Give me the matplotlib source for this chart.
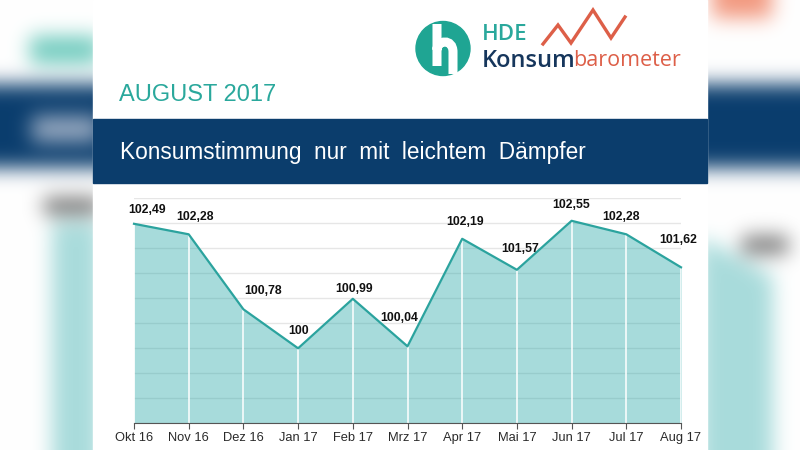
import numpy as np
import matplotlib
matplotlib.use("Agg")
import matplotlib.pyplot as plt
from matplotlib.patches import Rectangle, Circle
from matplotlib.path import Path
from matplotlib.patches import PathPatch

# HDE Konsumbarometer, August 2017
months = ["Okt 16", "Nov 16", "Dez 16", "Jan 17", "Feb 17", "Mrz 17",
          "Apr 17", "Mai 17", "Jun 17", "Jul 17", "Aug 17"]
index_values = [102.49, 102.28, 100.78, 100.00, 100.99, 100.04,
                102.19, 101.57, 102.55, 102.28, 101.62]
value_labels = ["102,49", "102,28", "100,78", "100", "100,99", "100,04",
                "102,19", "101,57", "102,55", "102,28", "101,62"]

# label nudges (pixels), mimicking the original's label placement
label_dx = [13, 6, 20, 0, 1, -8, 3, 3, 0, -5, -3]
label_dy = [14, 17, 18, 17, 10, 28, 17, 21, 16, 17, 27]

navy = "#0b3d6c"
teal = "#2aa89c"
line_teal = "#2ba39e"
red = "#dd5f48"

W, H = 800, 450
fig = plt.figure(figsize=(8, 4.5), dpi=100)


def blur(img, s):
    r = int(3 * s)
    k = np.exp(-0.5 * (np.arange(-r, r + 1) / s) ** 2)
    k /= k.sum()
    p = np.pad(img, ((r, r), (r, r), (0, 0)), mode="edge")
    p = np.apply_along_axis(lambda v: np.convolve(v, k, mode="valid"), 0, p)
    p = np.apply_along_axis(lambda v: np.convolve(v, k, mode="valid"), 1, p)
    return np.clip(p, 0, 1)


# blurred backdrop (zoomed copy of the card)
bg_img = np.ones((H, W, 3))
nv = np.array([0.04, 0.24, 0.43])
bg_img[84:168, :] = nv
bg_img[36:64, 30:100] = [0.45, 0.8, 0.75]
bg_img[116:142, 32:100] = [0.6, 0.67, 0.76]
bg_img[198:214, 44:100] = [0.4, 0.4, 0.4]
bg_img[222:, 52:100] = [0.66, 0.86, 0.86]
bg_img[0:18, 712:772] = [0.95, 0.6, 0.5]
bg_img[236:254, 742:788] = [0.45, 0.45, 0.45]
yy, xx = np.mgrid[0:H, 0:W]
right_fill = (xx >= 700) & (xx <= 772) & (yy >= 240 + (xx - 707) * 0.55)
bg_img[right_fill] = [0.66, 0.86, 0.86]
bg_img = blur(bg_img, 10)

bg = fig.add_axes([0, 0, 1, 1])
bg.imshow(bg_img, extent=(0, W, H, 0), aspect="auto", zorder=0)
bg.set_xlim(0, W)
bg.set_ylim(H, 0)
bg.axis("off")

# white card and title band
bg.add_patch(Rectangle((93, 0), 614, 450, color="white", zorder=1))
bg.add_patch(Rectangle((93, 119), 614, 64, color=navy, zorder=2))
bg.text(119, 95, "AUGUST 2017", color=teal, fontsize=17,
        family="Liberation Sans", va="center", ha="left", zorder=3)
bg.text(120, 153, "Konsumstimmung  nur  mit  leichtem  Dämpfer", color="white",
        fontsize=16.3, family="Liberation Sans", va="center", ha="left", zorder=3)

# logo
bg.add_patch(Circle((443, 48.5), 27, color="#1fa593", zorder=3))
h_path = Path([(437, 24), (437, 66), (437, 50), (437, 40), (453, 38),
               (453, 52), (453, 74)],
              [Path.MOVETO, Path.LINETO, Path.MOVETO, Path.CURVE4,
               Path.CURVE4, Path.CURVE4, Path.LINETO])
bg.add_patch(PathPatch(h_path, fill=False, edgecolor="white", lw=6.5,
                       capstyle="butt", zorder=4))
bg.text(482, 35, "HDE", color=teal, fontsize=16, family="Open Sans",
        fontweight="semibold", va="center", ha="left", zorder=3)
zig_x = [543, 558, 571, 593, 611, 625]
zig_y = [44, 25, 43, 10, 38, 17]
bg.plot(zig_x, zig_y, color=red, lw=2.4, solid_joinstyle="miter", zorder=3)
t1 = bg.text(482, 61, "Konsum", color="#16365c", fontsize=17,
             family="Open Sans", fontweight="semibold", va="center",
             ha="left", zorder=3)
fig.canvas.draw()
ext = t1.get_window_extent()
bg.text(ext.x1 - 3, 61, "barometer", color=red, fontsize=15.5,
        family="Open Sans", va="center", ha="left", zorder=3)

# chart
ax = fig.add_axes([134 / W, (H - 423.3) / H, 547 / W, 225 / H])
ax.set_facecolor("none")
x = np.arange(len(months))
ax.set_xlim(0, len(months) - 1)
ax.set_ylim(98.5, 103)
ax.set_yticks(np.arange(98.5, 103.01, 0.5))
ax.yaxis.grid(True, color="#e6e6e6", lw=1)
ax.set_axisbelow(True)
ax.fill_between(x, index_values, 98.5, color="#25a5a5", alpha=0.4, lw=0,
                zorder=2)
ax.vlines(x, 98.5, index_values, color="white", lw=1.3, alpha=0.85, zorder=3)
ax.plot(x, index_values, color=line_teal, lw=1.6, zorder=4, clip_on=False)
for xi, v, lab, dx, dy in zip(x, index_values, value_labels, label_dx, label_dy):
    ax.annotate(lab, (xi, v), xytext=(dx, dy), textcoords="offset pixels",
                ha="center", va="center", fontsize=8.8, fontweight="bold",
                family="Liberation Sans", color="#111111", zorder=5)

for s in ["top", "right", "left"]:
    ax.spines[s].set_visible(False)
ax.spines["bottom"].set_color("#555555")
ax.spines["bottom"].set_zorder(5)
ax.set_xticks(x)
ax.set_xticklabels(months, family="Liberation Sans")
ax.tick_params(axis="x", length=4, color="#555555", labelsize=9.3,
               labelcolor="#2a2a2a", pad=2)
ax.tick_params(axis="y", left=False, labelleft=False)

fig.savefig("out.png", dpi=100)
